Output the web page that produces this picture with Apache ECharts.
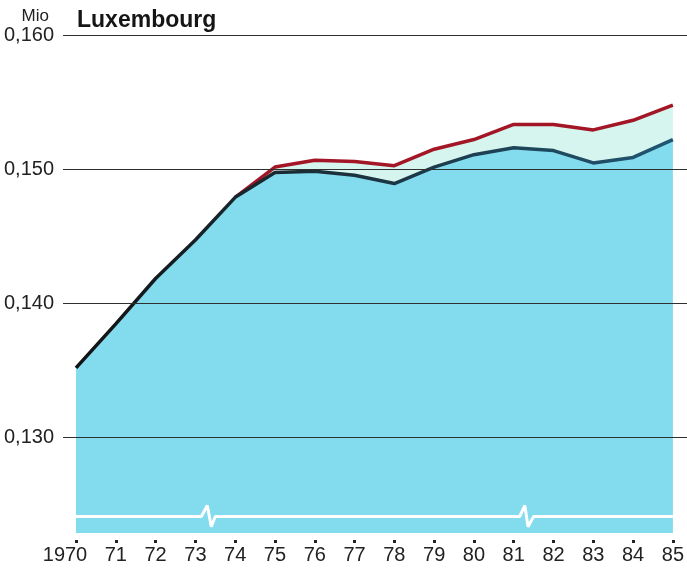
<!DOCTYPE html>
<html>
<head>
<meta charset="utf-8">
<script src="https://cdn.jsdelivr.net/npm/echarts@6/dist/echarts.min.js"></script>
<style>
  html, body { margin: 0; padding: 0; background: #fff; }
  #chart { width: 687px; height: 571px; }
</style>
</head>
<body>
<div id="chart"></div>
<script>
// Luxembourg population, Mio
var years = [1970, 1971, 1972, 1973, 1974, 1975, 1976, 1977, 1978, 1979, 1980, 1981, 1982, 1983, 1984, 1985];
var resident = [0.1358, 0.1390, 0.1423, 0.1451, 0.1482, 0.1500, 0.1501, 0.1498, 0.1492, 0.1504, 0.1513, 0.1518, 0.1516, 0.1507, 0.1511, 0.1524];
var total = [null, null, null, null, 0.1482, 0.1504, 0.1509, 0.1508, 0.1505, 0.1517, 0.1524, 0.1535, 0.1535, 0.1531, 0.1538, 0.1549];
var yTicks = [0.13, 0.14, 0.15, 0.16];
// axis break marker (white line with two zigzags)
var breakX = [1970, 1973.15, 1973.3, 1973.4, 1973.5, 1981.15, 1981.28, 1981.36, 1981.5, 1985];
var breakY = [0.125, 0.125, 0.1258, 0.12425, 0.125, 0.125, 0.1258, 0.12425, 0.125, 0.125];

var font = '"Liberation Sans", Arial, sans-serif';

function pairs(xs, ys) {
    var out = [];
    for (var i = 0; i < xs.length; i++) {
        out.push([xs[i], ys[i]]);
    }
    return out;
}

var myChart = echarts.init(document.getElementById('chart'));
var option = {
    animation: false,
    backgroundColor: '#fff',
    title: {
        text: 'Luxembourg',
        left: 72,
        top: 4,
        textStyle: { fontFamily: font, fontSize: 23, fontWeight: 'bold', color: '#151515' }
    },
    grid: [
        { left: 63, right: 0, top: 35, height: 550 },
        { left: 76, right: 10, top: 35, height: 498 }
    ],
    xAxis: [
        { gridIndex: 0, type: 'value', min: 0, max: 1, show: false },
        {
            gridIndex: 1,
            type: 'value',
            min: years[0],
            max: years[years.length - 1],
            interval: 1,
            offset: 7,
            axisLine: { show: false },
            splitLine: { show: false },
            axisTick: { show: true, length: 3, lineStyle: { width: 3, color: '#222' } },
            axisLabel: {
                margin: 5,
                fontFamily: font,
                fontSize: 20,
                color: '#222',
                formatter: function (v) {
                    return v === years[0] ? '{f|' + v + '}' : String(v).slice(2);
                },
                rich: {
                    f: { fontFamily: font, fontSize: 20, color: '#222', padding: [0, 22, 0, 0] }
                }
            }
        }
    ],
    yAxis: [
        {
            gridIndex: 0,
            type: 'value',
            min: 0.12,
            max: yTicks[yTicks.length - 1],
            interval: 0.01,
            z: 5,
            name: 'Mio',
            nameLocation: 'end',
            nameGap: 0,
            nameTextStyle: { fontFamily: font, fontSize: 17, color: '#222', align: 'right', padding: [0, 14, 0, 0] },
            axisLine: { show: false },
            axisTick: { show: false },
            axisLabel: {
                margin: 9,
                fontFamily: font,
                fontSize: 20,
                color: '#222',
                showMinLabel: false,
                formatter: function (v) {
                    return yTicks.indexOf(Math.round(v * 1000) / 1000) >= 0 ? v.toFixed(3).replace('.', ',') : '';
                }
            },
            splitLine: { show: true, lineStyle: { color: '#2f2f2f', width: 1 } }
        },
        {
            gridIndex: 1,
            type: 'value',
            min: 0.1238,
            max: 0.16,
            show: false,
            splitLine: { show: false }
        }
    ],
    series: [
        {
            name: 'total',
            type: 'line',
            xAxisIndex: 1,
            yAxisIndex: 1,
            data: pairs(years, total),
            symbol: 'none',
            lineStyle: { color: '#a31626', width: 3.5 },
            areaStyle: { color: '#d6f5ef', opacity: 1, origin: 'start' },
            z: 2
        },
        {
            name: 'resident',
            type: 'line',
            xAxisIndex: 1,
            yAxisIndex: 1,
            data: pairs(years, resident),
            symbol: 'none',
            lineStyle: {
                width: 3.5,
                color: new echarts.graphic.LinearGradient(0, 0, 1, 0, [
                    { offset: 0, color: '#121212' },
                    { offset: 0.4, color: '#1b2e38' },
                    { offset: 1, color: '#215672' }
                ])
            },
            areaStyle: { color: '#83dbee', opacity: 1, origin: 'start' },
            z: 3
        },
        {
            name: 'break',
            type: 'line',
            xAxisIndex: 1,
            yAxisIndex: 1,
            data: pairs(breakX, breakY),
            symbol: 'none',
            silent: true,
            lineStyle: { color: '#ffffff', width: 3 },
            z: 4
        }
    ]
};
myChart.setOption(option);
</script>
</body>
</html>
